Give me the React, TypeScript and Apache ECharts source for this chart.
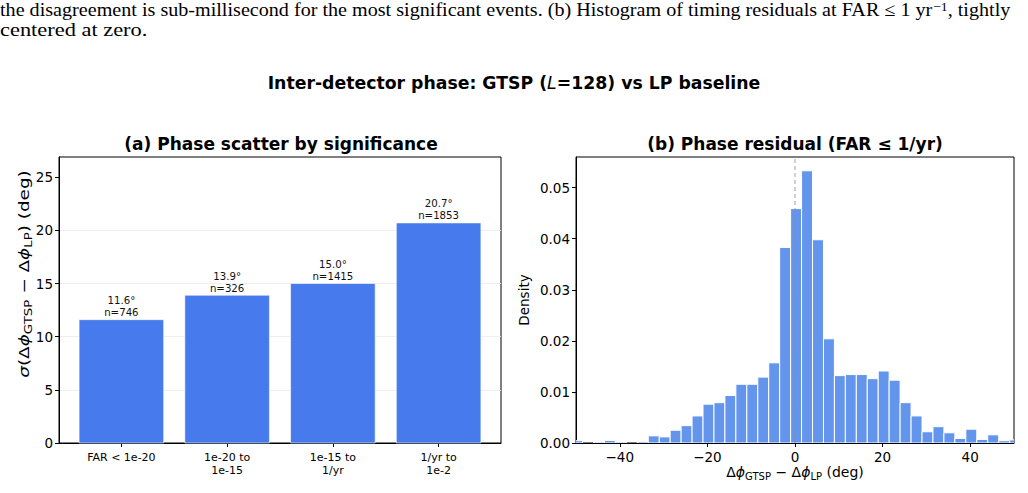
import React, { useEffect, useRef } from "react";
import * as echarts from "echarts";

// (a) phase scatter per significance bin
const categories = ["FAR < 1e-20", "1e-20 to\n1e-15", "1e-15 to\n1/yr", "1/yr to\n1e-2"];
const phaseScatterDeg = [11.6, 13.9, 15.0, 20.7];
const eventCounts = [746, 326, 1415, 1853];
const scatterTicks = [0, 5, 10, 15, 20, 25];

// (b) histogram of phase residuals (density), fixed-width bins
const binStart = -51;
const binWidth = 2.5;
const residualDensity = [
  0.00045, 0, 0.0002, 0.0005, 0.0002, 0, 0.0003, 0.0014, 0.0012, 0.0025,
  0.0034, 0.0053, 0.0076, 0.0079, 0.0093, 0.0115, 0.0115, 0.0129, 0.0157, 0.0383,
  0.0459, 0.0533, 0.0398, 0.0204, 0.0132, 0.0134, 0.0134, 0.0126, 0.0141, 0.0123,
  0.0079, 0.0053, 0.0022, 0.0032, 0.002, 0.0009, 0.0027, 0.0007, 0.0016, 0.00045,
  0.0006,
];
const densityTicks = [0, 0.01, 0.02, 0.03, 0.04, 0.05];
const residualTicks = [-40, -20, 0, 20, 40];
const densityMax = 0.056;

const FONT = "DejaVu Sans";
const SERIF = "Liberation Serif";
const minus = (v: number) => (v < 0 ? "\u2212" + Math.abs(v) : String(v));

export default function App() {
  const ref = useRef<HTMLDivElement>(null);

  useEffect(() => {
    if (!ref.current) return;
    const chart = echarts.init(ref.current, null, { renderer: "svg" });

    const barData = phaseScatterDeg.map((v, i) => [i, v, eventCounts[i]]);
    const histData = residualDensity.map((d, i) => [
      binStart + i * binWidth,
      binStart + (i + 1) * binWidth,
      d,
    ]);

    const mathRich = (size: number, sub: number) => ({
      n: { fontFamily: FONT, fontSize: size, lineHeight: size + 5, fill: "#000" },
      i: { fontFamily: FONT, fontSize: size, lineHeight: size + 5, fontStyle: "italic", fill: "#000" },
      s: { fontFamily: FONT, fontSize: sub, lineHeight: sub, verticalAlign: "bottom", fill: "#000" },
    });

    const option: any = {
      animation: false,
      textStyle: { fontFamily: FONT },
      grid: [
        { left: 59, top: 157, width: 442, height: 286, show: true, borderColor: "#000", borderWidth: 1 },
        { left: 576, top: 157, width: 438, height: 286, show: true, borderColor: "#000", borderWidth: 1 },
      ],
      xAxis: [
        {
          gridIndex: 0,
          type: "value",
          min: -0.59,
          max: 3.59,
          axisLine: { onZero: false, lineStyle: { color: "#000", width: 1 } },
          axisTick: { customValues: [0, 1, 2, 3], length: 4, lineStyle: { color: "#000" } },
          axisLabel: {
            customValues: [0, 1, 2, 3],
            formatter: (v: number) => categories[Math.round(v)] ?? "",
            fontSize: 11,
            lineHeight: 13,
            color: "#000",
            margin: 8,
          },
          splitLine: { show: false },
        },
        {
          gridIndex: 1,
          type: "value",
          min: -50,
          max: 50,
          axisLine: { onZero: false, lineStyle: { color: "#000", width: 1 } },
          axisTick: { customValues: residualTicks, length: 4, lineStyle: { color: "#000" } },
          axisLabel: {
            customValues: residualTicks,
            formatter: (v: number) => minus(v),
            fontSize: 13.5,
            color: "#000",
            margin: 7,
          },
          splitLine: { show: false },
        },
      ],
      yAxis: [
        {
          gridIndex: 0,
          type: "value",
          min: 0,
          max: 26.9,
          axisLine: { show: true, onZero: false, lineStyle: { color: "#000", width: 1 } },
          axisTick: { show: true, customValues: scatterTicks, length: 4, lineStyle: { color: "#000" } },
          axisLabel: { customValues: scatterTicks, fontSize: 13.5, color: "#000", margin: 6 },
          splitLine: {
            show: true,
            showMinLine: false,
            showMaxLine: false,
            lineStyle: { color: "#ebebeb", width: 0.8 },
          },
        },
        {
          gridIndex: 1,
          type: "value",
          min: 0,
          max: densityMax,
          axisLine: { show: true, onZero: false, lineStyle: { color: "#000", width: 1 } },
          axisTick: { show: true, customValues: densityTicks, length: 4, lineStyle: { color: "#000" } },
          axisLabel: {
            customValues: densityTicks,
            formatter: (v: number) => v.toFixed(2),
            fontSize: 13.5,
            color: "#000",
            margin: 6,
          },
          splitLine: { show: false },
        },
      ],
      series: [
        {
          type: "custom",
          xAxisIndex: 0,
          yAxisIndex: 0,
          data: barData,
          encode: { x: 0, y: 1 },
          renderItem: (_params: any, api: any) => {
            const i = api.value(0);
            const v = api.value(1);
            const n = api.value(2);
            const p0 = api.coord([i - 0.4, v]);
            const p1 = api.coord([i + 0.4, 0]);
            return {
              type: "group",
              children: [
                {
                  type: "rect",
                  shape: { x: p0[0], y: p0[1], width: p1[0] - p0[0], height: p1[1] - p0[1] },
                  style: { fill: "#477AEC", stroke: "rgba(255,255,255,0.6)", lineWidth: 1 },
                },
                {
                  type: "text",
                  style: {
                    text: `${v.toFixed(1)}°\nn=${n}`,
                    x: (p0[0] + p1[0]) / 2,
                    y: p0[1] - 1,
                    align: "center",
                    verticalAlign: "bottom",
                    fontFamily: FONT,
                    fontSize: 10.2,
                    lineHeight: 12,
                    fill: "#111",
                  },
                },
              ],
            };
          },
        },
        {
          type: "custom",
          xAxisIndex: 1,
          yAxisIndex: 1,
          data: histData,
          encode: { x: [0, 1], y: 2 },
          clip: true,
          z: 2,
          renderItem: (_params: any, api: any) => {
            const d = api.value(2);
            if (!(d > 0)) return null;
            const p0 = api.coord([api.value(0), d]);
            const p1 = api.coord([api.value(1), 0]);
            return {
              type: "rect",
              shape: { x: p0[0], y: p0[1], width: p1[0] - p0[0], height: p1[1] - p0[1] },
              style: { fill: "#6495ED", stroke: "#ffffff", lineWidth: 1 },
            };
          },
        },
        {
          // zero reference line
          type: "line",
          xAxisIndex: 1,
          yAxisIndex: 1,
          data: [
            [0, 0],
            [0, densityMax],
          ],
          symbol: "none",
          silent: true,
          z: 5,
          lineStyle: { color: "#8c8c8c", type: [4, 3], width: 1, opacity: 0.8 },
        },
      ],
      graphic: [
        {
          type: "text",
          x: 0,
          y: 0,
          scaleX: 1.06,
          style: {
            text:
              "{n|the disagreement is sub-millisecond for the most significant events. (b) Histogram of timing residuals at FAR ≤ 1 yr}{u|−1}{n|, tightly}",
            verticalAlign: "top",
            rich: {
              n: { fontFamily: SERIF, fontSize: 19, lineHeight: 19, fill: "#000" },
              u: { fontFamily: SERIF, fontSize: 13, lineHeight: 13, verticalAlign: "top", fill: "#000" },
            },
          },
        },
        {
          type: "text",
          x: 0,
          y: 20,
          scaleX: 1.18,
          style: {
            text: "centered at zero.",
            verticalAlign: "top",
            fontFamily: SERIF,
            fontSize: 19,
            lineHeight: 19,
            fill: "#000",
          },
        },
        {
          type: "text",
          x: 514,
          y: 83,
          style: {
            text: "{b|Inter-detector phase: GTSP (}{bi|L}{b|=128) vs LP baseline}",
            align: "center",
            verticalAlign: "middle",
            rich: {
              b: { fontFamily: FONT, fontSize: 17.3, fontWeight: "bold", fill: "#000" },
              bi: { fontFamily: FONT, fontSize: 17.3, fontStyle: "italic", fill: "#000" },
            },
          },
        },
        {
          type: "text",
          x: 281,
          y: 144,
          style: {
            text: "(a) Phase scatter by significance",
            align: "center",
            verticalAlign: "middle",
            fontFamily: FONT,
            fontSize: 17,
            fontWeight: "bold",
            fill: "#000",
          },
        },
        {
          type: "text",
          x: 795,
          y: 144,
          style: {
            text: "(b) Phase residual (FAR ≤ 1/yr)",
            align: "center",
            verticalAlign: "middle",
            fontFamily: FONT,
            fontSize: 17,
            fontWeight: "bold",
            fill: "#000",
          },
        },
        {
          type: "text",
          x: 24,
          y: 274,
          rotation: Math.PI / 2,
          scaleX: 1.27,
          style: {
            text: "{i|σ}{n|(Δ}{i|ϕ}{s|GTSP}{n| − Δ}{i|ϕ}{s|LP}{n|) (deg)}",
            align: "center",
            verticalAlign: "middle",
            rich: mathRich(14.5, 10.5),
          },
        },
        {
          type: "text",
          x: 524,
          y: 300,
          rotation: Math.PI / 2,
          style: {
            text: "Density",
            align: "center",
            verticalAlign: "middle",
            fontFamily: FONT,
            fontSize: 13.5,
            fill: "#000",
          },
        },
        {
          type: "text",
          x: 795,
          y: 472,
          style: {
            text: "{n|Δ}{i|ϕ}{s|GTSP}{n| − Δ}{i|ϕ}{s|LP}{n| (deg)}",
            align: "center",
            verticalAlign: "middle",
            rich: mathRich(14, 10),
          },
        },
      ],
    };

    chart.setOption(option);
    return () => chart.dispose();
  }, []);

  return (
    <div
      ref={ref}
      style={{ position: "absolute", left: 0, top: 0, width: 1028, height: 493, background: "#fff" }}
    />
  );
}
